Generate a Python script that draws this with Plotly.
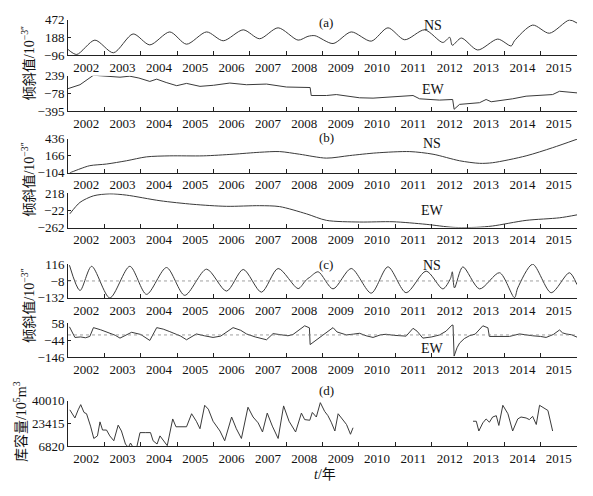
import plotly.graph_objects as go

W, H = 593, 496

year_labels = [str(y) for y in range(2002, 2016)]
year_mid = [y + 0.5 for y in range(2002, 2016)]
year_edge = list(range(2003, 2016))

# (a) raw tilt
a_ns_t = [2002.00, 2002.24, 2002.74, 2003.25, 2003.79, 2004.25, 2004.80, 2005.26, 2005.81, 2006.27,
          2006.82, 2007.27, 2007.78, 2008.33, 2008.60, 2008.79, 2009.29, 2009.79, 2010.34, 2010.80,
          2011.26, 2011.81, 2012.31, 2012.50, 2012.57, 2012.82, 2013.27, 2013.82, 2014.19, 2014.28,
          2014.78, 2015.24, 2015.79, 2016.00]
a_ns_v = [0, -80, 147, -53, 245, 72, 277, 83, 277, 137,
          310, 169, 342, 147, 207, 218, 93, 277, 131, 342,
          153, 310, 110, 191, 66, 180, -9, 164, 55, 137,
          385, 256, 465, 418]
a_ew_t = [2002.00, 2002.33, 2002.70, 2003.05, 2003.43, 2003.70, 2003.95, 2004.25, 2004.44, 2004.70,
          2004.99, 2005.26, 2005.63, 2006.00, 2006.45, 2006.91, 2007.46, 2008.01, 2008.56, 2008.66,
          2008.69, 2009.11, 2009.38, 2009.70, 2010.02, 2010.39, 2010.94, 2011.49, 2011.67, 2012.22,
          2012.58, 2012.62, 2012.77, 2013.32, 2013.50, 2013.64, 2014.23, 2014.60, 2015.33, 2015.52,
          2016.00]
a_ew_v = [10, 80, 250, 235, 215, 233, 200, 139, 180, 120,
          63, 104, 51, 70, 110, 80, 92, 39, 33, 30,
          -113, -113, -96, -125, -154, -160, -137, -113, -172, -195,
          -184, -360, -272, -242, -184, -225, -172, -125, -96, -37,
          -66]

# (b) trend
b_ns_t = [2002.05, 2002.33, 2002.60, 2003.06, 2003.61, 2004.16, 2004.80, 2005.72, 2006.54, 2007.27,
          2007.82, 2008.37, 2009.11, 2009.75, 2010.48, 2011.40, 2012.04, 2012.77, 2013.32, 2013.68,
          2014.60, 2015.33, 2016.00]
b_ns_v = [-104, -41, 10, 36, 88, 150, 166, 166, 192, 223,
          234, 192, 130, 171, 213, 234, 192, 88, 47, 57,
          166, 296, 431]
b_ew_t = [2002.05, 2002.33, 2002.70, 2003.15, 2003.61, 2004.53, 2005.44, 2006.36, 2007.27, 2007.82,
          2008.56, 2009.11, 2010.02, 2010.94, 2011.85, 2012.59, 2013.23, 2013.68, 2014.60, 2015.52,
          2016.00]
b_ew_v = [-70, 90, 181, 209, 191, 113, 63, 35, 44, 31,
          -70, -161, -184, -180, -216, -258, -258, -239, -161, -125,
          -84]

# (c) seasonal component
c_ns_t = [2002.04, 2002.33, 2002.65, 2003.15, 2003.70, 2004.16, 2004.71, 2005.21, 2005.81, 2006.36,
          2006.82, 2007.32, 2007.78, 2008.33, 2008.52, 2008.60, 2008.65, 2008.88, 2009.29, 2009.79,
          2010.34, 2010.80, 2011.30, 2011.85, 2012.31, 2012.52, 2012.57, 2012.63, 2012.86, 2013.32,
          2013.87, 2014.28, 2014.37, 2014.78, 2015.29, 2015.79, 2016.00]
c_ns_v = [107, -78, 99, -132, 99, -106, 90, -113, 78, -82,
          76, -90, 83, -64, -10, 10, 19, 59, -66, 83,
          -97, 95, -94, 64, -66, 10, 59, -59, 95, -66,
          52, -130, -59, 114, -94, 52, -35]
c_ns_ref = -8
c_ew_t = [2002.04, 2002.12, 2002.19, 2002.35, 2002.48, 2002.60, 2002.70, 2002.90, 2003.15, 2003.30,
          2003.43, 2003.60, 2003.75, 2004.00, 2004.25, 2004.44, 2004.62, 2004.80, 2004.99, 2005.10,
          2005.26, 2005.53, 2005.75, 2005.99, 2006.20, 2006.54, 2006.75, 2006.91, 2007.15, 2007.46,
          2007.64, 2007.85, 2008.05, 2008.19, 2008.51, 2008.64, 2008.66, 2008.85, 2009.01, 2009.29,
          2009.40, 2009.66, 2009.85, 2010.02, 2010.20, 2010.39, 2010.60, 2010.75, 2010.95, 2011.30,
          2011.49, 2011.60, 2011.76, 2012.00, 2012.22, 2012.40, 2012.56, 2012.59, 2012.62, 2012.70,
          2012.77, 2012.90, 2013.04, 2013.20, 2013.41, 2013.55, 2013.59, 2013.90, 2014.14, 2014.42,
          2014.60, 2014.78, 2015.00, 2015.15, 2015.35, 2015.52, 2015.60, 2015.70, 2015.85, 2016.00]
c_ew_v = [36, 5, -28, -25, -30, -22, 31, 18, -3, -15,
          -32, -12, 3, -10, -46, 31, 22, 7, -13, -20,
          -42, -7, -18, -28, -20, 31, 15, -7, -25, -42,
          -5, -12, -18, -10, 42, 30, -71, -40, -13, 31,
          5, -13, -8, -3, -18, -28, -12, -9, -15, -20,
          27, 10, -32, -25, -13, 10, 46, 46, -140, -90,
          -62, -35, -18, -8, 42, 30, -22, -20, -22, -7,
          -14, -18, -22, -28, -10, 17, 0, -7, -12, -26]
c_ew_ref = -13

# (d) reservoir storage, two observed periods separated by a gap (None)
d_t = [2002.05, 2002.19, 2002.28, 2002.35, 2002.44, 2002.51, 2002.62, 2002.71, 2002.81, 2002.88,
       2002.95, 2003.06, 2003.15, 2003.26, 2003.38, 2003.47, 2003.58, 2003.66, 2003.72, 2003.79,
       2003.89, 2003.98, 2004.14, 2004.27, 2004.34, 2004.45, 2004.53, 2004.62, 2004.73, 2004.88,
       2004.97, 2005.26, 2005.40, 2005.53, 2005.63, 2005.76, 2005.86, 2005.99, 2006.18, 2006.31,
       2006.50, 2006.63, 2006.77, 2006.95, 2007.09, 2007.23, 2007.35, 2007.48, 2007.62, 2007.78,
       2007.93, 2008.08, 2008.26, 2008.42, 2008.51, 2008.65, 2008.72, 2008.83, 2008.94, 2009.06,
       2009.15, 2009.24, 2009.34, 2009.43, 2009.56, 2009.66, 2009.77, 2009.84, None,
       2013.14, 2013.23, 2013.30, 2013.41, 2013.50, 2013.59, 2013.68, 2013.78, 2013.85, 2013.96,
       2014.10, 2014.23, 2014.37, 2014.46, 2014.60, 2014.69, 2014.78, 2014.88, 2014.97, 2015.08,
       2015.20, 2015.33]
d_v = [33370, 27440, 33370, 37160, 31470, 30530, 21520, 12510, 14400, 24600,
       18670, 18670, 14400, 10850, 22230, 17960, 8480, 6000, 9190, 6000,
       6000, 16780, 16780, 16780, 10850, 8480, 14400, 10850, 7290, 26730,
       21040, 21040, 30530, 25070, 19620, 36690, 33850, 25070, 17960, 10850,
       28150, 19620, 12510, 35270, 28150, 23890, 17250, 31000, 21520, 12510,
       36220, 25070, 17250, 31000, 26260, 25790, 31470, 28150, 38590, 32190,
       29100, 24360, 17960, 30530, 26260, 22700, 15590, 20330, None,
       25070, 25070, 17960, 23890, 26730, 24360, 28150, 29100, 22000, 36690,
       30530, 17960, 26730, 28150, 27440, 26260, 28630, 22700, 36690, 34560,
       32900, 17960]

ticks_a_ns = [-96, 188, 472]
ticks_a_ew = [-395, -78, 239]
ticks_b_ns = [-104, 166, 436]
ticks_b_ew = [-262, -22, 218]
ticks_c_ns = [-132, -8, 116]
ticks_c_ew = [-146, -44, 58]
ticks_d = [6820, 23415, 40010]

SERIF = "Liberation Serif, Times New Roman, Noto Sans CJK SC"
LINE = "#3a3a3a"

# (series t, series v, ticks, top px, bottom px)
panels = [
    (a_ns_t, a_ns_v, ticks_a_ns, 13, 50),
    (a_ew_t, a_ew_v, ticks_a_ew, 71, 107.5),
    (b_ns_t, b_ns_v, ticks_b_ns, 136, 171),
    (b_ew_t, b_ew_v, ticks_b_ew, 192, 227.5),
    (c_ns_t, c_ns_v, ticks_c_ns, 265, 300),
    (c_ew_t, c_ew_v, ticks_c_ew, 326, 361),
    (d_t, d_v, ticks_d, 406, 453),
]
smooth = [True, False, True, True, True, False, False]

fig = go.Figure()
x0, x1 = 68 / W, 577 / W
for i, (t, v, tk, top, bot) in enumerate(panels):
    n = "" if i == 0 else str(i + 1)
    fig.add_trace(go.Scatter(x=t, y=v, mode="lines", xaxis="x" + n, yaxis="y" + n,
                             line=dict(color=LINE, width=1, shape="spline" if smooth[i] else "linear",
                                       smoothing=0.8),
                             connectgaps=False, showlegend=False, hoverinfo="skip"))
    fig.layout["xaxis" + n] = dict(
        domain=[x0, x1], anchor="y" + n, range=[2002, 2016],
        tickmode="array", tickvals=year_mid, ticktext=year_labels, ticks="", ticklen=0,
        showline=True, linecolor="#222", linewidth=1, showgrid=False, zeroline=False,
        minor=dict(tickmode="array", tickvals=year_edge, ticks="inside", ticklen=4,
                   tickcolor="#222", showgrid=False),
        tickfont=dict(family=SERIF, size=13, color="#111"),
    )
    fig.layout["yaxis" + n] = dict(
        domain=[1 - bot / H, 1 - top / H], anchor="x" + n, range=[tk[0], tk[-1]],
        tickmode="array", tickvals=tk, ticktext=[str(k).replace("-", "−") for k in tk],
        ticks="inside", ticklen=3, tickcolor="#222",
        showline=True, linecolor="#222", linewidth=1, showgrid=False, zeroline=False,
        tickfont=dict(family=SERIF, size=13, color="#111"),
    )

# dotted reference lines in (c)
for ax, ref in (("5", c_ns_ref), ("6", c_ew_ref)):
    fig.add_shape(type="line", xref="x" + ax, yref="y" + ax, x0=2002, x1=2016, y0=ref, y1=ref,
                  line=dict(color="#888", width=0.8, dash="dot"))

def label(text, px, py, size=14, angle=0):
    fig.add_annotation(text=text, x=px / W, y=1 - py / H, xref="paper", yref="paper",
                       showarrow=False, textangle=angle, xanchor="center", yanchor="middle",
                       font=dict(family=SERIF, size=size, color="#111"))

label("(a)", 326, 16, 13)
label("NS", 433, 19)
label("EW", 433, 85)
label("(b)", 326, 135, 13)
label("NS", 432, 141)
label("EW", 432, 210)
label("(c)", 326, 266, 13)
label("NS", 432, 267)
label("EW", 432, 352)
label("(d)", 326, 395, 13)
label("<i>t</i>/年", 325, 482)

ytitle = "倾斜值/10<sup>−3″</sup>"
label(ytitle, 28, 58, 14, -90)
label(ytitle, 28, 178, 14, -90)
label(ytitle, 28, 308, 14, -90)
label("库容量/10<sup>5</sup>m<sup>3</sup>", 20, 428, 14, -90)

fig.update_layout(width=W, height=H, margin=dict(l=0, r=0, t=0, b=0),
                  plot_bgcolor="white", paper_bgcolor="white")
fig.write_html("out.html", config={"displayModeBar": False},
               post_script="document.body.style.margin='0';")
